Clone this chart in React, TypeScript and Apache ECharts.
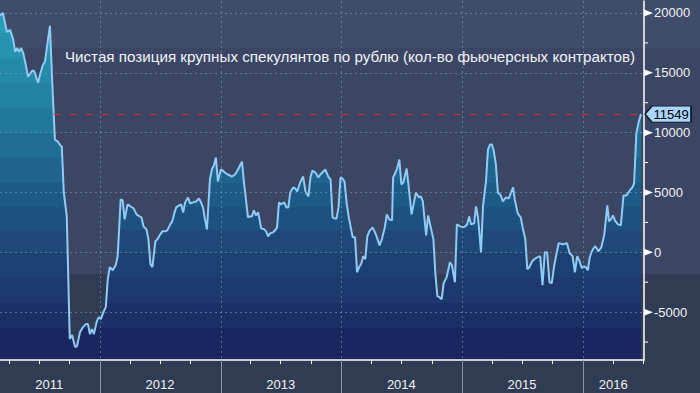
import React, { useEffect, useRef } from 'react';
import * as echarts from 'echarts';

const title = 'Чистая позиция крупных спекулянтов по рублю (кол-во фьючерсных контрактов)';

const dates = [
  '2011-03-05','2011-03-14','2011-03-20','2011-03-26','2011-04-05','2011-04-14','2011-04-20','2011-04-26','2011-05-02','2011-05-08',
  '2011-05-14','2011-05-20','2011-05-29','2011-06-10','2011-06-16','2011-06-28','2011-07-04','2011-07-13','2011-07-19','2011-07-28',
  '2011-08-03','2011-08-10','2011-08-18','2011-08-27','2011-09-02','2011-09-08','2011-09-14','2011-09-23','2011-10-02','2011-10-09',
  '2011-10-18','2011-10-24','2011-11-02','2011-11-11','2011-11-20','2011-11-26','2011-12-02','2011-12-08','2011-12-14','2011-12-23',
  '2011-12-29','2012-01-04','2012-01-13','2012-01-19','2012-01-25','2012-01-31','2012-02-09','2012-02-18','2012-02-24','2012-03-04',
  '2012-03-10','2012-03-16','2012-03-25','2012-04-03','2012-04-12','2012-04-21','2012-04-30','2012-05-06','2012-05-12','2012-05-21',
  '2012-05-27','2012-06-02','2012-06-08','2012-06-17','2012-06-23','2012-07-02','2012-07-08','2012-07-17','2012-07-23','2012-08-01',
  '2012-08-07','2012-08-13','2012-08-19','2012-08-28','2012-09-03','2012-09-09','2012-09-15','2012-09-24','2012-09-30','2012-10-09',
  '2012-10-18','2012-10-27','2012-11-02','2012-11-08','2012-11-14','2012-11-20','2012-11-29','2012-12-05','2012-12-11','2012-12-17',
  '2012-12-23','2013-01-01','2013-01-07','2013-01-13','2013-01-22','2013-01-28','2013-02-03','2013-02-13','2013-02-22','2013-02-28',
  '2013-03-06','2013-03-12','2013-03-18','2013-03-24','2013-03-30','2013-04-05','2013-04-11','2013-04-17','2013-04-24','2013-05-03',
  '2013-05-12','2013-05-18','2013-05-24','2013-05-30','2013-06-08','2013-06-14','2013-06-20','2013-06-26','2013-07-02','2013-07-12',
  '2013-07-18','2013-07-24','2013-07-30','2013-08-08','2013-08-14','2013-08-20','2013-08-29','2013-09-07','2013-09-14','2013-09-23',
  '2013-09-29','2013-10-05','2013-10-14','2013-10-23','2013-10-29','2013-11-04','2013-11-13','2013-11-22','2013-11-29','2013-12-05',
  '2013-12-11','2013-12-17','2013-12-23','2013-12-29','2014-01-04','2014-01-10','2014-01-17','2014-01-23','2014-01-29','2014-02-04',
  '2014-02-11','2014-02-17','2014-02-23','2014-03-01','2014-03-08','2014-03-14','2014-03-20','2014-03-26','2014-04-05','2014-04-11',
  '2014-04-17','2014-04-26','2014-05-03','2014-05-12','2014-05-18','2014-05-25','2014-06-03','2014-06-06','2014-06-12','2014-06-18',
  '2014-06-25','2014-07-01','2014-07-07','2014-07-17','2014-07-23','2014-08-01','2014-08-07','2014-08-14','2014-08-23','2014-08-29',
  '2014-09-04','2014-09-14','2014-09-20','2014-09-26','2014-10-06','2014-10-12','2014-10-18','2014-10-24','2014-10-31','2014-11-06',
  '2014-11-15','2014-11-25','2014-12-01','2014-12-10','2014-12-16','2014-12-26','2015-01-04','2015-01-10','2015-01-16','2015-01-22',
  '2015-01-28','2015-02-06','2015-02-12','2015-02-18','2015-02-27','2015-03-05','2015-03-14','2015-03-20','2015-03-26','2015-04-01',
  '2015-04-07','2015-04-13','2015-04-19','2015-04-28','2015-05-04','2015-05-13','2015-05-22','2015-05-29','2015-06-04','2015-06-09',
  '2015-06-18','2015-06-27','2015-07-03','2015-07-11','2015-07-17','2015-07-23','2015-08-01','2015-08-07','2015-08-16','2015-08-25',
  '2015-09-01','2015-09-08','2015-09-15','2015-09-22','2015-09-29','2015-10-06','2015-10-13','2015-10-20','2015-11-02','2015-11-14',
  '2015-11-22','2015-12-01','2015-12-08','2015-12-15','2015-12-22','2015-12-29','2016-01-04','2016-01-10','2016-01-16','2016-01-22',
  '2016-01-27','2016-02-02','2016-02-08','2016-02-17','2016-02-26','2016-03-06','2016-03-15','2016-03-20','2016-03-26','2016-04-01',
  '2016-04-07','2016-04-16','2016-04-25','2016-05-03','2016-05-12','2016-05-18','2016-05-24','2016-05-30','2016-06-04','2016-06-11',
  '2016-06-18','2016-06-25',
];

const values = [
  19800,20000,19170,18420,18580,17750,16750,17080,16750,17080,
  16670,15920,14670,15170,15170,14170,14830,15670,15920,17750,
  18920,14250,9420,9250,9000,8830,5000,3000,-7250,-6920,
  -7920,-7830,-6670,-6250,-6000,-6000,-6830,-6420,-6830,-5750,
  -5420,-5580,-4920,-4580,-2250,-1250,-1500,-1080,-330,4420,
  4330,2750,4000,3830,3670,3170,3000,2920,2170,1920,
  1080,-1000,-1250,920,1080,1500,1750,1750,1830,2330,
  2580,3250,3750,3920,4000,3330,4170,4580,4080,4170,
  4250,4500,4170,3750,2750,1920,6080,6920,7250,7920,
  5920,6920,6830,6670,6500,6420,6330,6500,6920,7250,
  7580,5830,4420,2920,3000,3000,3500,3080,3330,2000,
  1920,1750,1330,1580,1670,1830,2080,4170,4000,4170,
  3750,3750,5000,5420,5330,5080,5830,6330,5080,4670,
  6250,6830,6670,6250,6500,6670,6920,6330,6080,2920,
  2830,2830,3750,6250,6170,5920,4000,2920,2080,1250,
  1250,-1670,-1250,-1000,-330,-580,1330,1750,2080,1750,
  1330,580,1080,2080,3170,2750,2670,6250,6580,7000,
  7750,5670,5830,7000,5500,3170,4000,5000,4580,4670,
  4250,1420,3080,2330,1080,-1830,-3670,-3750,-3920,-2580,
  -2080,-830,-1080,-2500,2330,2170,2080,2170,2330,3000,
  2330,2420,3830,2920,0,3830,5920,8580,9000,9000,
  8420,7330,5000,4750,4250,4580,4500,5000,5420,4420,
  3250,2920,2080,1080,-1420,-1250,-750,-580,-420,-330,
  -2750,0,0,-2500,-2580,-1170,-170,750,670,750,
  -80,-330,-1670,-330,-750,-1330,-1170,-1250,-1500,-420,
  0,330,500,80,420,1500,3920,2580,2750,3080,
  2670,2330,2250,4750,4750,5000,5250,5420,5750,10000,
  10900,11549,
];

const xMin = '2011-03-05';
const xMax = '2016-07-04';
const refLineStart = '2011-08-14';

const quarterTicks = [
  '2011-04-01','2011-07-01','2011-10-01','2012-01-01','2012-04-01','2012-07-01','2012-10-01',
  '2013-01-01','2013-04-01','2013-07-01','2013-10-01','2014-01-01','2014-04-01','2014-07-01','2014-10-01',
  '2015-01-01','2015-04-01','2015-07-01','2015-10-01','2016-01-01','2016-04-01','2016-07-01',
];
const yearStarts = ['2012-01-01','2013-01-01','2014-01-01','2015-01-01','2016-01-01'];
const yearLabelDates = ['2011-08-01','2012-07-01','2013-07-01','2014-07-01','2015-07-01','2016-04-02'];
const yearLabels = ['2011','2012','2013','2014','2015','2016'];

const yMin = -9000;
const yMax = 21000;
const yMajorTicks = [-5000, 0, 5000, 10000, 15000, 20000];
const yMinorTicks = [-7500, -2500, 2500, 7500, 12500, 17500];

const ts = (s: string) => new Date(s + 'T00:00:00').getTime();

const AXIS_FONT = "'Liberation Sans', Arial, sans-serif";
const GRID_COLOR = 'rgba(130,165,190,0.55)';

const fillBands: [number, number, string][] = [
  [0, 33, '#2a9db4'],
  [33, 58, '#2794ae'],
  [58, 83, '#258aa7'],
  [83, 108, '#2381a1'],
  [108, 133, '#21789b'],
  [133, 158, '#206e94'],
  [158, 183, '#1f648d'],
  [183, 207, '#1e5a86'],
  [207, 230, '#1d517f'],
  [230, 253, '#1d4878'],
  [253, 278, '#1c4072'],
  [278, 303, '#1c386c'],
  [303, 328, '#1b3066'],
  [328, 361, '#1a2660'],
];

export default function App() {
  const ref = useRef<HTMLDivElement>(null);

  useEffect(() => {
    if (!ref.current) return;
    const chart = echarts.init(ref.current, null, { renderer: 'svg' });

    const stops: { offset: number; color: string }[] = [];
    fillBands.forEach(([y0, y1, c]) => {
      stops.push({ offset: Math.min(1, y0 / 361), color: c });
      stops.push({ offset: Math.min(1, y1 / 361), color: c });
    });
    const fill = new echarts.graphic.LinearGradient(0, 0, 0, 361, stops, true);

    const seriesData = dates.map((d, i) => [ts(d), values[i]]);
    const lastDate = dates[dates.length - 1];
    const lastValue = values[values.length - 1];
    const labelTs = yearLabelDates.map(ts);

    const option: any = {
      animation: false,
      backgroundColor: 'transparent',
      title: {
        text: title,
        left: 'center',
        top: 44,
        textStyle: {
          color: '#f0f2f5',
          fontSize: 15.2,
          fontWeight: 'normal',
          fontFamily: "'Liberation Sans', sans-serif",
        },
      },
      grid: { left: 0, right: 56, top: 1, bottom: 33, outerBoundsMode: 'none', containLabel: false },
      xAxis: [
        {
          type: 'value',
          position: 'bottom',
          min: ts(xMin),
          max: ts(xMax),
          z: 3,
          axisLine: { show: true, onZero: false, lineStyle: { color: '#ffffff', width: 1.5 } },
          axisTick: { show: true, customValues: quarterTicks.map(ts), length: 4, lineStyle: { color: '#ffffff', width: 1 } },
          axisLabel: {
            customValues: labelTs,
            formatter: (v: number) => {
              const i = labelTs.indexOf(v);
              return i >= 0 ? yearLabels[i] : String(new Date(v).getFullYear());
            },
            color: '#f2f2f2',
            fontSize: 13,
            fontFamily: AXIS_FONT,
            margin: 18,
          },
          splitLine: { show: false },
        },
        {
          type: 'value',
          position: 'bottom',
          min: ts(xMin),
          max: ts(xMax),
          z: 3,
          axisLine: { show: false, onZero: false },
          axisTick: { show: true, customValues: yearStarts.map(ts), length: 33, lineStyle: { color: '#8c95a5', width: 1 } },
          axisLabel: { show: false },
          splitLine: { show: true, lineStyle: { color: GRID_COLOR, type: [2, 3], width: 1 } },
        },
      ],
      yAxis: [
        {
          type: 'value',
          position: 'right',
          min: yMin,
          max: yMax,
          z: 3,
          axisLine: { show: true, onZero: false, lineStyle: { color: '#ffffff', width: 1.5 } },
          axisTick: { show: false, customValues: yMajorTicks },
          axisLabel: {
            customValues: yMajorTicks,
            formatter: (v: number) => String(v),
            margin: 10,
            color: '#f2f2f2',
            fontSize: 13,
            fontFamily: AXIS_FONT,
          },
          splitLine: { show: true, lineStyle: { color: GRID_COLOR, type: [2, 3], width: 1 } },
        },
      ],
      series: [
        {
          type: 'line',
          xAxisIndex: 0,
          yAxisIndex: 0,
          data: seriesData,
          symbol: 'none',
          showSymbol: false,
          lineStyle: { color: '#8fcbf4', width: 2 },
          areaStyle: { origin: 'start', color: fill, opacity: 1 },
          z: 2,
          markLine: {
            silent: true,
            symbol: ['none', 'none'],
            label: { show: false },
            lineStyle: { color: '#e3262b', type: [7, 9], width: 1 },
            data: [[{ coord: [ts(refLineStart), lastValue] }, { coord: [ts(xMax), lastValue] }]],
          },
          markPoint: {
            silent: true,
            z: 5,
            data: [
              {
                coord: [ts(lastDate), lastValue],
                value: lastValue,
                symbol: 'path://M0,8 L7,0 L46,0 L46,16 L7,16 Z',
                symbolSize: [46, 16],
                symbolKeepAspect: false,
                symbolOffset: [27, 0],
                itemStyle: { color: '#a9d5fb', borderColor: '#0d1420', borderWidth: 1 },
                label: {
                  show: true,
                  position: 'inside',
                  offset: [3, 0],
                  color: '#000000',
                  fontSize: 13,
                  fontFamily: AXIS_FONT,
                  formatter: '{c}',
                },
              },
            ],
          },
        },
      ],
    };

    chart.setOption(option);

    // Axis tick marks placed through the chart's own scales
    const axisX = chart.convertToPixel({ xAxisIndex: 0 }, ts(xMax)) as number;
    const elements: any[] = [];
    yMajorTicks.forEach((v) => {
      const y = chart.convertToPixel({ yAxisIndex: 0 }, v) as number;
      elements.push({
        type: 'polygon',
        silent: true,
        z: 100,
        shape: { points: [[axisX, y - 3.5], [axisX + 9, y], [axisX, y + 3.5]] },
        style: { fill: '#ffffff' },
      });
    });
    yMinorTicks.forEach((v) => {
      const y = chart.convertToPixel({ yAxisIndex: 0 }, v) as number;
      elements.push({
        type: 'line',
        silent: true,
        z: 100,
        shape: { x1: axisX, y1: y, x2: axisX + 4, y2: y },
        style: { stroke: '#ffffff', lineWidth: 1 },
      });
    });
    chart.setOption({ graphic: elements });

    return () => chart.dispose();
  }, []);

  return (
    <div
      ref={ref}
      style={{
        position: 'fixed',
        left: 0,
        top: 0,
        width: 700,
        height: 393,
        background:
          'linear-gradient(to bottom, #3f4c6a 0px, #3f4c6a 48px, #3a4664 48px, #3a4664 274px, #303b54 274px, #303b54 393px)',
      }}
    />
  );
}
